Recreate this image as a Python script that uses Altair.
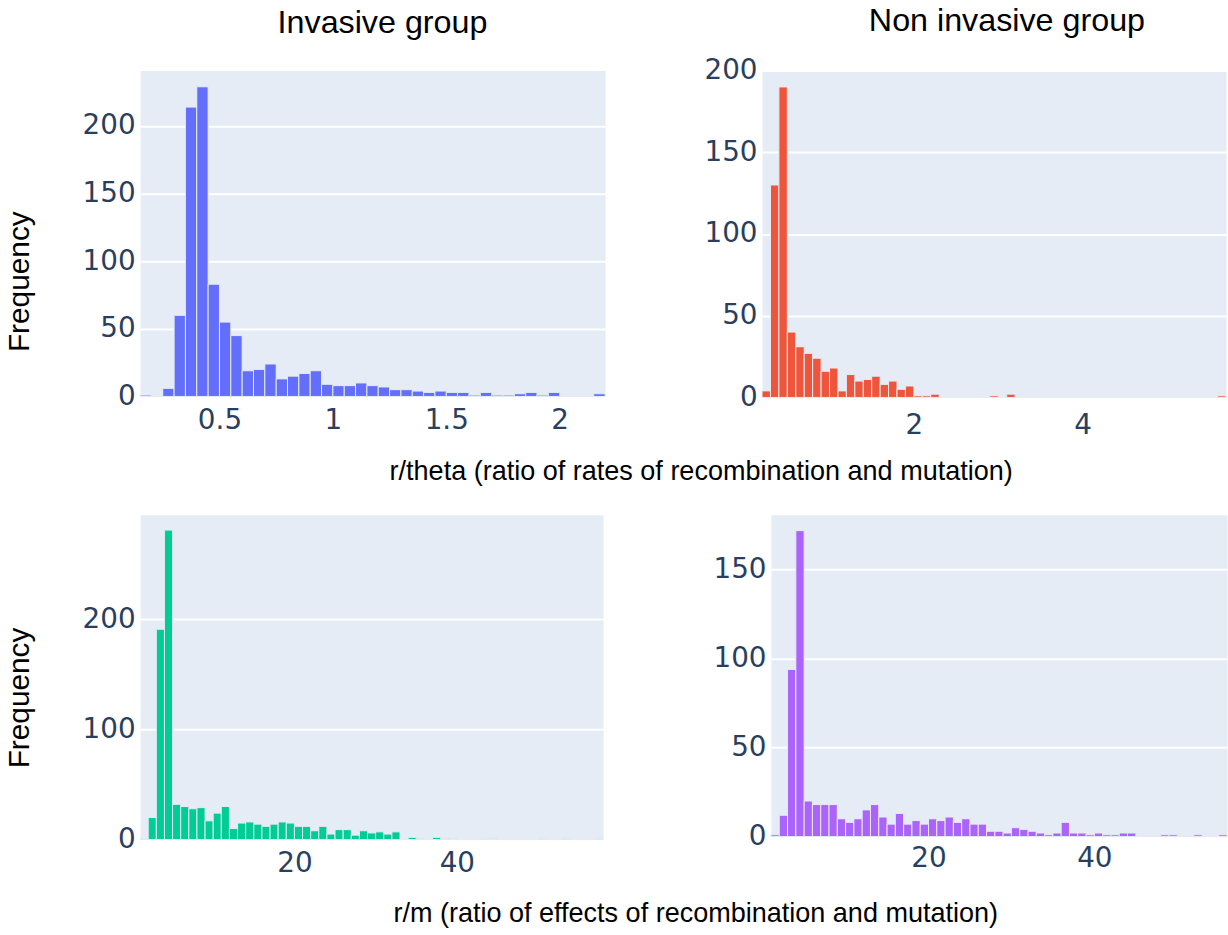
import altair as alt
import pandas as pd

# Histogram counts, one value per bin (left to right)
inv_theta_counts = [1, 0, 6, 60, 214, 229, 83, 55, 45, 19, 20, 24, 13, 15, 17, 19, 9, 8, 8, 10,
                    8, 7, 5, 5, 4, 3, 4, 3, 3, 1, 3, 1, 1, 2, 3, 1, 3, 0, 0, 0, 2]
inv_theta_start, inv_theta_step = 0.15, 0.05

non_theta_counts = [4, 130, 190, 40, 31, 27, 24, 16, 18, 4, 14, 10, 11, 13, 8, 10, 5, 7, 1, 1,
                    2, 0, 0, 0, 0, 0, 0, 1, 0, 2] + [0] * 24 + [1]
non_theta_start, non_theta_step = 0.2, 0.1

inv_rm_counts = [1, 20, 191, 281, 32, 30, 28, 29, 17, 24, 30, 10, 15, 16, 14, 12, 14, 16, 15, 12,
                 12, 8, 12, 5, 9, 9, 4, 8, 6, 7, 5, 7, 0, 2, 1, 0, 2, 1, 1, 0,
                 0, 0, 1, 1, 0, 0, 0, 0, 0, 1, 0, 0, 1, 0, 0, 0, 1]
inv_rm_start, inv_rm_step = 1, 1

non_rm_counts = [1, 12, 94, 172, 20, 18, 18, 18, 10, 8, 10, 15, 18, 11, 7, 13, 7, 9, 7, 10,
                 9, 11, 8, 10, 7, 7, 3, 3, 2, 5, 4, 3, 2, 1, 2, 8, 2, 2, 1, 2,
                 1, 1, 2, 2, 0, 0, 0, 1, 1, 0, 0, 1, 0, 0, 1]
non_rm_start, non_rm_step = 1, 1

# Axis ranges and tick values
x_domains = {"inv_theta": [0.15, 2.2], "non_theta": [0.2, 5.7], "inv_rm": [1, 58], "non_rm": [1, 56]}
x_ticks = {"inv_theta": [0.5, 1, 1.5, 2], "non_theta": [2, 4], "inv_rm": [20, 40], "non_rm": [20, 40]}
y_domains = {"inv_theta": [0, 241], "non_theta": [0, 200], "inv_rm": [0, 295], "non_rm": [0, 181]}
y_ticks = {"inv_theta": [0, 50, 100, 150, 200], "non_theta": [0, 50, 100, 150, 200],
           "inv_rm": [0, 100, 200], "non_rm": [0, 50, 100, 150]}

colors = {"inv_theta": "#636EFA", "non_theta": "#EF553B", "inv_rm": "#00CC96", "non_rm": "#AB63FA"}

TICK_FONT = "DejaVu Sans"
TICK_SIZE = 28
TICK_COLOR = "#2a3f5f"
TEXT_FONT = "Liberation Sans"


def bins(counts, start, step):
    lo = [round(start + i * step, 6) for i in range(len(counts))]
    hi = [round(v + step, 6) for v in lo]
    return pd.DataFrame({"lo": lo, "hi": hi, "count": counts})


def panel(key, df, width, height, x_pad, y_title=None, y_title_pos=None, title=None):
    y_axis_args = dict(
        values=y_ticks[key], domain=False, ticks=False, grid=True, gridColor="white", gridWidth=2,
        labelFont=TICK_FONT, labelFontSize=TICK_SIZE, labelColor=TICK_COLOR, labelPadding=5,
    )
    if y_title:
        y_axis_args.update(
            title=y_title, titleFont=TEXT_FONT, titleFontSize=30, titleFontWeight="normal",
            titleColor="black", titleAngle=270, titleAlign="center", titleBaseline="alphabetic",
            titleX=y_title_pos[0], titleY=y_title_pos[1],
        )
    else:
        y_axis_args.update(title=None)

    chart = alt.Chart(df).mark_bar(
        color=colors[key], stroke="#E5ECF6", strokeWidth=1
    ).encode(
        x=alt.X("lo:Q", title=None,
                scale=alt.Scale(domain=x_domains[key], nice=False, zero=False),
                axis=alt.Axis(values=x_ticks[key], format=".2~f", domain=False, ticks=False, grid=False,
                              labelFont=TICK_FONT, labelFontSize=TICK_SIZE, labelColor=TICK_COLOR,
                              labelPadding=x_pad, labelFlush=False)),
        x2="hi:Q",
        y=alt.Y("count:Q", scale=alt.Scale(domain=y_domains[key], nice=False), axis=alt.Axis(**y_axis_args)),
        y2=alt.datum(0),
    ).properties(width=width, height=height)
    if title is not None:
        chart = chart.properties(title=title)
    return chart


def panel_title(text, offset, dx):
    return alt.TitleParams(text, font=TEXT_FONT, fontSize=32.5, fontWeight="normal", color="black",
                           anchor="middle", frame="group", offset=offset, dx=dx)


def axis_caption(text, offset, dx):
    return alt.TitleParams(text, orient="bottom", font=TEXT_FONT, fontSize=27.2, fontWeight="normal",
                           color="black", anchor="middle", baseline="alphabetic", offset=offset, dx=dx)


p1 = panel("inv_theta", bins(inv_theta_counts, inv_theta_start, inv_theta_step), 468, 328, 10,
           y_title="Frequency", y_title_pos=(-112, 212), title=panel_title("Invasive group", 31.5, 10))
p2 = panel("non_theta", bins(non_theta_counts, non_theta_start, non_theta_step), 467, 329, 14,
           title=panel_title("Non invasive group", 19.5, 13))
p3 = panel("inv_rm", bins(inv_rm_counts, inv_rm_start, inv_rm_step), 466, 327, 10,
           y_title="Frequency", y_title_pos=(-112, 184))
p4 = panel("non_rm", bins(non_rm_counts, non_rm_start, non_rm_step), 459, 324, 8)

top = alt.hconcat(p1, p2, spacing=98,
                  title=axis_caption("r/theta (ratio of rates of recombination and mutation)", 41, 86))
bottom = alt.hconcat(p3, p4, spacing=109,
                     title=axis_caption("r/m (ratio of effects of recombination and mutation)", 44, 80))

chart = alt.vconcat(top, bottom, spacing=28).properties(
    padding={"left": 4, "top": 1, "right": 0, "bottom": 0},
    background="white",
).configure_view(fill="#E5ECF6", stroke="transparent")

chart.save("out.html", embed_options={"renderer": "svg", "actions": False})
